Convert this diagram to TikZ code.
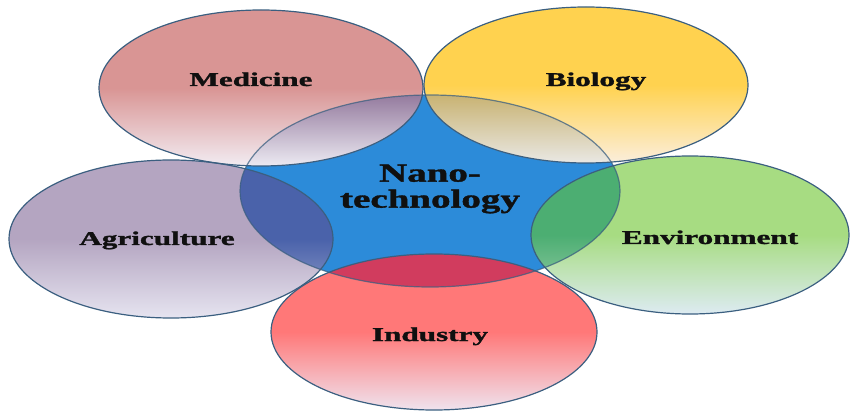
\documentclass[tikz,border=0pt]{standalone}
\usepackage{fontspec}
\setmainfont{Liberation Serif}[BoldFeatures={FakeBold=1.2}]
\begin{document}
\begin{tikzpicture}[x=1pt,y=-1pt,
  outl/.style={draw=lineC, line width=1.2pt},
  lab/.style={font=\fontsize{19.5}{23}\selectfont\bfseries, text=txtC, inner sep=0pt, anchor=base},
  cenlab/.style={font=\fontsize{26}{26}\selectfont\bfseries, text=txtC, inner sep=0pt, align=center}]
\definecolor{lineC}{HTML}{3B5F80}
\definecolor{txtC}{HTML}{101010}
\definecolor{blueC}{HTML}{2C8BD9}
\definecolor{medT}{HTML}{D99594}
\definecolor{medB}{HTML}{F2ECF2}
\definecolor{bioT}{HTML}{FFD24F}
\definecolor{bioB}{HTML}{FBEEDC}
\definecolor{agrT}{HTML}{B4A5C1}
\definecolor{agrB}{HTML}{E6E4F0}
\definecolor{envT}{HTML}{A7DC82}
\definecolor{envB}{HTML}{DDEBF2}
\definecolor{indT}{HTML}{FF7878}
\definecolor{indB}{HTML}{EFE3EE}
\definecolor{medOT}{HTML}{8C7096}
\definecolor{medOB}{HTML}{ECEAF2}
\definecolor{bioOT}{HTML}{C4AB62}
\definecolor{bioOB}{HTML}{E9E8E4}
\definecolor{agrOT}{HTML}{4A62AA}
\definecolor{agrOB}{HTML}{A3ADD2}
\definecolor{envOT}{HTML}{4CAE72}
\definecolor{envOB}{HTML}{A8D3B4}
\definecolor{indO}{HTML}{D13C5E}
\useasboundingbox (0,0) rectangle (850,411);
\def\cen{(430,191) ellipse [x radius=190, y radius=96]}
\def\med{(261,88) ellipse [x radius=162, y radius=78]}
\def\bio{(586,85) ellipse [x radius=162, y radius=78]}
\def\agr{(171,239) ellipse [x radius=162, y radius=79]}
\def\env{(690,235) ellipse [x radius=159, y radius=79]}
\def\ind{(434,332) ellipse [x radius=163, y radius=78]}
% base fills
\fill[blueC] \cen;
\shade[top color=medT, bottom color=medB, middle color=medT] \med;
\shade[top color=bioT, bottom color=bioB, middle color=bioT] \bio;
\shade[top color=agrT, bottom color=agrB, middle color=agrT] \agr;
\shade[top color=envT, bottom color=envB, middle color=envT] \env;
\shade[top color=indT, bottom color=indB, middle color=indT] \ind;
% overlaps with the centre
\begin{scope}\clip \cen; \clip \med;
  \shade[top color=medOT, bottom color=medOB, middle color=medOT] (99,10) rectangle (423,166);
\end{scope}
\begin{scope}\clip \cen; \clip \bio;
  \shade[top color=bioOT, bottom color=bioOB, middle color=bioOT] (424,7) rectangle (748,163);
\end{scope}
\begin{scope}\clip \cen; \clip \agr;
  \shade[top color=agrOT, bottom color=agrOB, middle color=agrOT] (9,160) rectangle (333,318);
\end{scope}
\begin{scope}\clip \cen; \clip \env;
  \shade[top color=envOT, bottom color=envOB, middle color=envOT] (531,156) rectangle (849,314);
\end{scope}
\begin{scope}\clip \cen; \clip \ind;
  \fill[indO] (271,254) rectangle (597,410);
\end{scope}
% outlines
\draw[outl, draw opacity=0.75] \cen;
\draw[outl] \med;
\draw[outl] \bio;
\draw[outl] \agr;
\draw[outl] \env;
\draw[outl] \ind;
% labels
\node[lab] (medicine) at (251,86) {\scalebox{1.6}[1]{Medicine}};
\node[lab] (biology) at (596,86) {\scalebox{1.6}[1]{Biology}};
\node[lab] (agriculture) at (157,245) {\scalebox{1.6}[1]{Agriculture}};
\node[lab] (environment) at (710,244) {\scalebox{1.6}[1]{Environment}};
\node[lab] (industry) at (430,341) {\scalebox{1.6}[1]{Industry}};
\node[cenlab] (nano) at (430,189) {\scalebox{1.5}[1]{Nano-}\\\scalebox{1.5}[1]{technology}};
\end{tikzpicture}
\end{document}
